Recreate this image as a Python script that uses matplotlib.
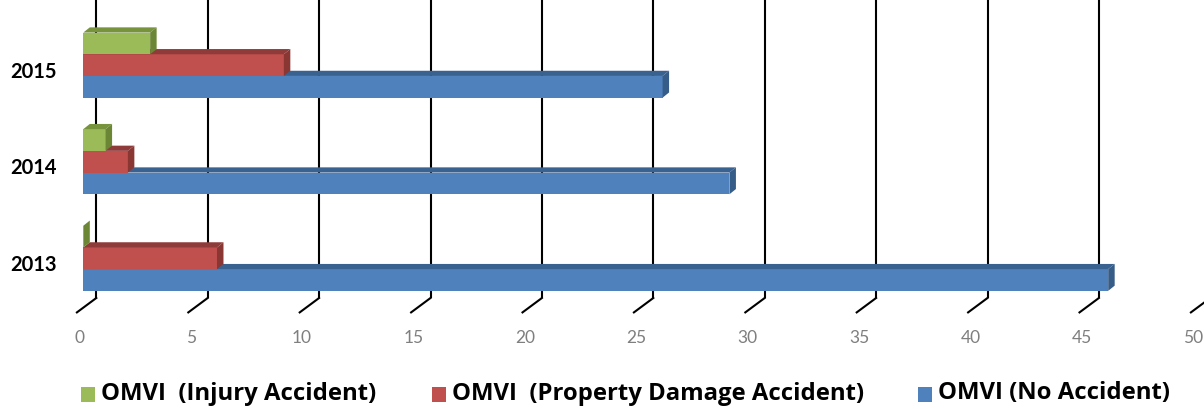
import matplotlib
matplotlib.use("Agg")
import matplotlib.pyplot as plt
from matplotlib.patches import Polygon, Rectangle

# data
years = ["2013", "2014", "2015"]
no_accident = [46, 29, 26]
property_damage = [6, 2, 9]
injury = [0, 1, 3]

series_names = [
    "OMVI  (Injury Accident)",
    "OMVI  (Property Damage Accident)",
    "OMVI (No Accident)",
]
x_ticks = [0, 5, 10, 15, 20, 25, 30, 35, 40, 45, 50]

# colours (front, top, side)
GREEN = ("#9BBB59", "#77933C", "#6B8735")
RED = ("#C0504D", "#8E3B39", "#8A3734")
BLUE = ("#4F81BD", "#3A6291", "#365C88")

FONT = ["Lato", "DejaVu Sans"]
LEGEND_FONT = ["Open Sans", "DejaVu Sans"]

W, H = 1204, 409
fig = plt.figure(figsize=(W / 100, H / 100), dpi=100)

# front plane of the bars, in pixels
left_px, right_px, floor_px = 83.3, 1197.3, 298
ylo, yhi = -0.411, 2.674
ax = fig.add_axes([left_px / W, 1 - floor_px / H,
                   (right_px - left_px) / W, floor_px / H])
ax.set_xlim(0, 50)
ax.set_ylim(ylo, yhi)
ax.axis("off")

# pixel -> data unit helpers
ppx = (right_px - left_px) / 50
ppy = floor_px / (yhi - ylo)

bar_h = 21.7 / ppy
DX, DY = 6.5 / ppx, 5.2 / ppy

# back gridlines with the slanted floor part
for v in x_ticks:
    xb = v + 13 / ppx
    ax.plot([xb, xb], [yhi, ylo], color="black", lw=1.5, zorder=0,
            solid_capstyle="butt", clip_on=False)
    ax.plot([xb, xb - 19.4 / ppx], [ylo, ylo - 14.4 / ppy], color="black",
            lw=1.5, zorder=0, clip_on=False)
    ax.text(v - 4 / ppx, ylo - 40.3 / ppy, str(v), ha="center", va="center",
            color="#7F7F7F", fontsize=12.5, family=FONT)


def bar3d(y, w, colors, z):
    front, top, side = colors
    y0, y1 = y - bar_h / 2, y + bar_h / 2
    ax.add_patch(Rectangle((0, y0), w, bar_h, facecolor=front,
                           edgecolor="none", zorder=z))
    ax.add_patch(Polygon([(0, y1), (w, y1), (w + DX, y1 + DY), (DX, y1 + DY)],
                         closed=True, facecolor=top, edgecolor="none", zorder=z))
    ax.add_patch(Polygon([(w, y0), (w, y1), (w + DX, y1 + DY), (w + DX, y0 + DY)],
                         closed=True, facecolor=side, edgecolor="none", zorder=z))


for k, year in enumerate(years):
    bar3d(k - bar_h, no_accident[k], BLUE, 1)
    bar3d(k, property_damage[k], RED, 2)
    bar3d(k + bar_h, injury[k], GREEN, 3)
    ax.text(-26.3 / ppx, k - 6.5 / ppy, year, ha="right", va="center",
            fontsize=14.5, fontweight="bold", color="black", family=FONT)

# legend
legend_items = [
    (80.7, GREEN[0], series_names[0]),
    (431.7, RED[0], series_names[1]),
    (918, BLUE[0], series_names[2]),
]
for x, c, name in legend_items:
    fig.patches.append(Rectangle((x / W, 1 - 401.7 / H), 14 / W, 15 / H,
                                 facecolor=c, edgecolor="none",
                                 transform=fig.transFigure))
    fig.text((x + 20) / W, 1 - 393.5 / H, name, ha="left", va="center",
             fontsize=17.2, fontweight="bold", color="black", family=LEGEND_FONT)

fig.savefig("out.png", dpi=100, facecolor="white")
